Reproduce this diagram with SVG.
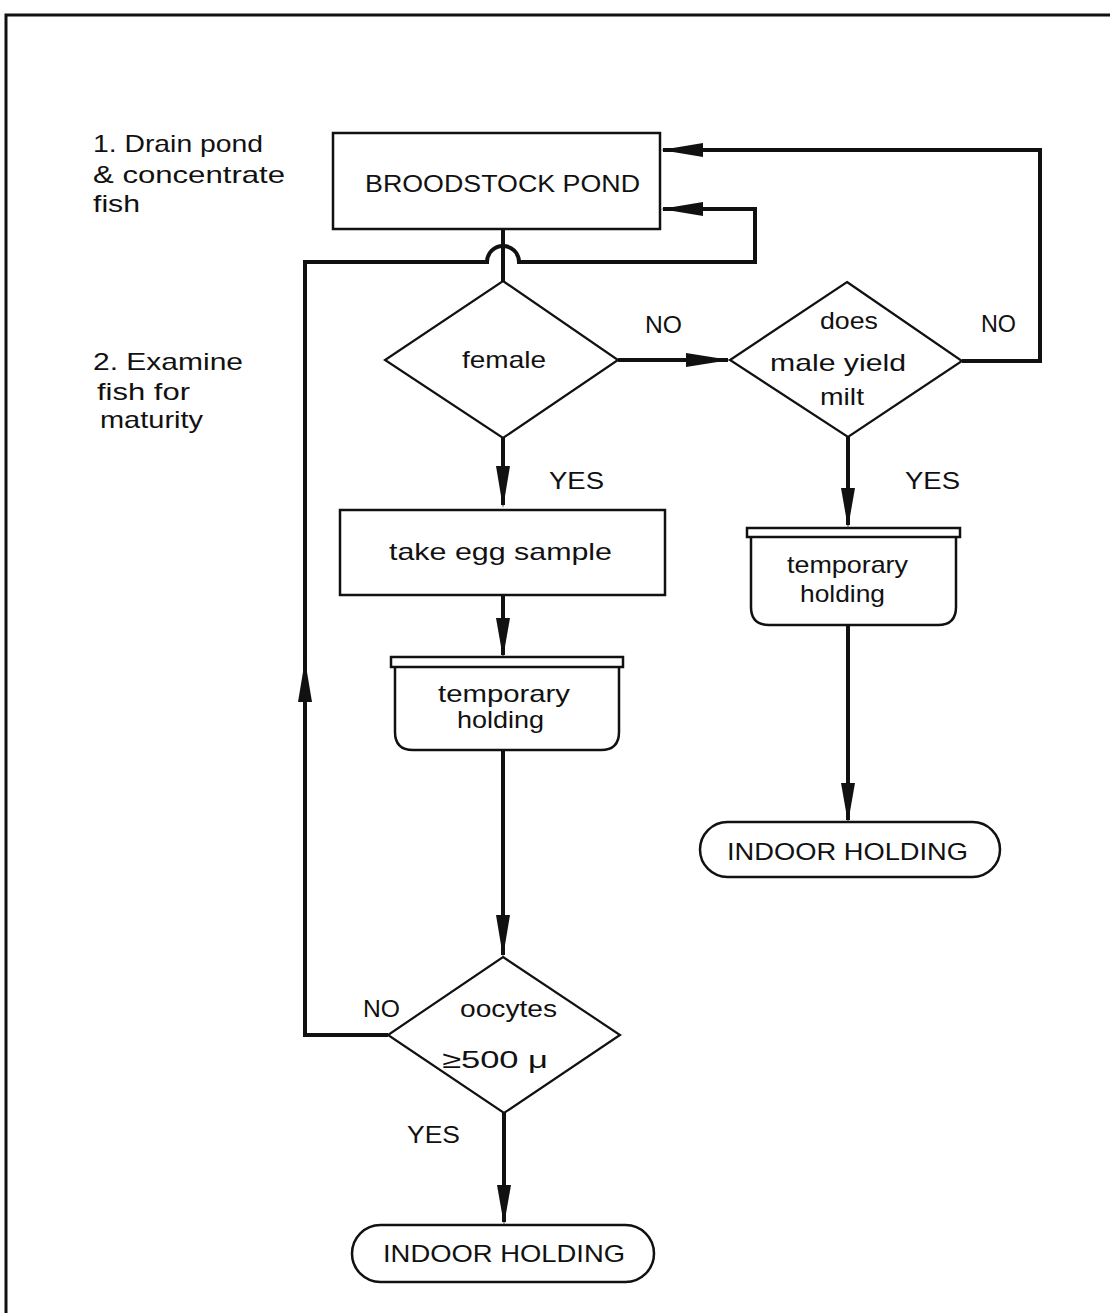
<svg xmlns="http://www.w3.org/2000/svg" width="1110" height="1313" viewBox="0 0 1110 1313">
<style>
text{font-family:"Liberation Sans","DejaVu Sans",sans-serif;fill:#111;font-size:24px}
.box{fill:none;stroke:#111;stroke-width:2.5}
.dia{fill:none;stroke:#111;stroke-width:2.2}
.con{fill:none;stroke:#111;stroke-width:4;stroke-linejoin:miter}
.ah{fill:#111}
.c{text-anchor:start}
</style>
<rect width="1110" height="1313" fill="#fff"/>
<path d="M6,1313 V15 H1110" fill="none" stroke="#111" stroke-width="3"/>

<g id="notes">
<text x="93" y="152" textLength="170" lengthAdjust="spacingAndGlyphs">1. Drain pond</text>
<text x="93" y="183" textLength="192" lengthAdjust="spacingAndGlyphs">&amp; concentrate</text>
<text x="93" y="212" textLength="47" lengthAdjust="spacingAndGlyphs">fish</text>
<text x="93" y="370" textLength="150" lengthAdjust="spacingAndGlyphs">2. Examine</text>
<text x="97" y="400" textLength="93" lengthAdjust="spacingAndGlyphs">fish for</text>
<text x="100" y="428" textLength="103" lengthAdjust="spacingAndGlyphs">maturity</text>
</g>

<g id="connectors">
<path class="con" d="M503,230 V281"/>
<path class="con" d="M503,438 V505"/>
<polygon class="ah" points="496,466 510,466 503,508"/>
<path class="con" d="M503,595 V655"/>
<polygon class="ah" points="496,618 510,618 503,658"/>
<path class="con" d="M503,750 V955"/>
<polygon class="ah" points="496,915 510,915 503,957"/>
<path class="con" d="M504,1113 V1222"/>
<polygon class="ah" points="497,1185 511,1185 504,1225"/>
<path class="con" d="M618,360 H728"/>
<polygon class="ah" points="686,353 686,367 730,360"/>
<path class="con" d="M848,437 V525"/>
<polygon class="ah" points="841,488 855,488 848,528"/>
<path class="con" d="M848,625 V820"/>
<polygon class="ah" points="841,783 855,783 848,823"/>
<path class="con" d="M962,361 H1040 V150 H663"/>
<polygon class="ah" points="703,143 703,157 661,150"/>
<path class="con" d="M388,1035 H305 V262 H487 A16,16 0 0 1 519,262 H755 V209 H663"/>
<polygon class="ah" points="703,202 703,216 661,209"/>
<polygon class="ah" points="298,702 312,702 305,660"/>
</g>

<g id="broodstock-pond">
<rect class="box" x="333" y="133" width="327" height="96"/>
<text x="365" y="192" textLength="275" lengthAdjust="spacingAndGlyphs" font-size="26">BROODSTOCK POND</text>
</g>

<g id="female">
<polygon class="dia" points="503,281 618,360 503,438 385,360"/>
<text x="462" y="368" textLength="84" lengthAdjust="spacingAndGlyphs">female</text>
</g>

<g id="male-milt">
<polygon class="dia" points="847,282 962,361 848,437 730,360"/>
<text x="820" y="329" textLength="58" lengthAdjust="spacingAndGlyphs">does</text>
<text x="770" y="371" textLength="136" lengthAdjust="spacingAndGlyphs">male  yield</text>
<text x="820" y="405" textLength="44" lengthAdjust="spacingAndGlyphs">milt</text>
</g>

<g id="labels">
<text x="645" y="333" textLength="37" lengthAdjust="spacingAndGlyphs">NO</text>
<text x="981" y="332" textLength="35" lengthAdjust="spacingAndGlyphs">NO</text>
<text x="549" y="489" textLength="55" lengthAdjust="spacingAndGlyphs">YES</text>
<text x="905" y="489" textLength="55" lengthAdjust="spacingAndGlyphs">YES</text>
<text x="363" y="1017" textLength="37" lengthAdjust="spacingAndGlyphs">NO</text>
<text x="407" y="1143" textLength="53" lengthAdjust="spacingAndGlyphs">YES</text>
</g>

<g id="take-egg-sample">
<rect class="box" x="340" y="510" width="325" height="85"/>
<text x="389" y="560" textLength="223" lengthAdjust="spacingAndGlyphs">take egg sample</text>
</g>

<g id="temp-holding-left">
<rect class="box" x="391" y="657" width="232" height="10"/>
<path class="box" d="M395,667 V732 Q395,750 413,750 H601 Q619,750 619,732 V667"/>
<text x="438" y="702" textLength="132" lengthAdjust="spacingAndGlyphs">temporary</text>
<text x="457" y="728" textLength="87" lengthAdjust="spacingAndGlyphs">holding</text>
</g>

<g id="temp-holding-right">
<rect class="box" x="747" y="528" width="213" height="9"/>
<path class="box" d="M751,537 V607 Q751,625 769,625 H938 Q956,625 956,607 V537"/>
<text x="787" y="573" textLength="121" lengthAdjust="spacingAndGlyphs">temporary</text>
<text x="800" y="602" textLength="85" lengthAdjust="spacingAndGlyphs">holding</text>
</g>

<g id="indoor-holding-right">
<rect class="box" x="700" y="822" width="300" height="55" rx="27.5"/>
<text x="727" y="860" textLength="241" lengthAdjust="spacingAndGlyphs">INDOOR  HOLDING</text>
</g>

<g id="oocytes">
<polygon class="dia" points="503,957 620,1035 504,1113 388,1035"/>
<text x="460" y="1017" textLength="97" lengthAdjust="spacingAndGlyphs">oocytes</text>
<text x="442" y="1068" textLength="106" lengthAdjust="spacingAndGlyphs">≥500 μ</text>
</g>

<g id="indoor-holding-bottom">
<rect class="box" x="352" y="1225" width="302" height="57" rx="28.5"/>
<text x="383" y="1262" textLength="242" lengthAdjust="spacingAndGlyphs">INDOOR  HOLDING</text>
</g>
</svg>
